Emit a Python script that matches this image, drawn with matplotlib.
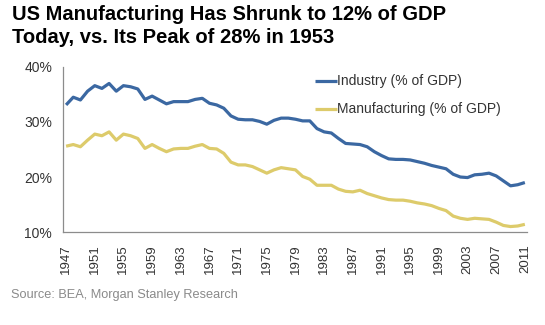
import matplotlib
matplotlib.use("Agg")
import matplotlib.pyplot as plt
import matplotlib.ticker as mticker

plt.rcParams["font.family"] = ["Liberation Sans", "DejaVu Sans"]

# 年度資料 1947-2011（佔 GDP 百分比）
years = list(range(1947, 2012))
industry = [
    33.1, 34.5, 34.0, 35.6, 36.6, 36.1, 37.0, 35.6, 36.6, 36.4,
    36.0, 34.1, 34.7, 34.0, 33.3, 33.7, 33.7, 33.7, 34.1, 34.3,
    33.4, 33.1, 32.5, 31.1, 30.5, 30.4, 30.4, 30.1, 29.6, 30.3,
    30.7, 30.7, 30.5, 30.2, 30.2, 28.8, 28.2, 28.0, 27.0, 26.1,
    26.0, 25.9, 25.5, 24.6, 23.9, 23.3, 23.2, 23.2, 23.1, 22.8,
    22.5, 22.1, 21.8, 21.5, 20.5, 20.0, 19.9, 20.4, 20.5, 20.7,
    20.2, 19.3, 18.4, 18.6, 19.0,
]
manufacturing = [
    25.6, 25.9, 25.5, 26.7, 27.8, 27.5, 28.2, 26.7, 27.8, 27.5,
    27.0, 25.2, 25.9, 25.2, 24.6, 25.1, 25.2, 25.2, 25.6, 25.9,
    25.2, 25.1, 24.3, 22.7, 22.2, 22.2, 21.9, 21.3, 20.7, 21.3,
    21.7, 21.5, 21.3, 20.1, 19.6, 18.5, 18.5, 18.5, 17.8, 17.4,
    17.3, 17.6, 17.0, 16.6, 16.2, 15.9, 15.8, 15.8, 15.6, 15.3,
    15.1, 14.8, 14.3, 13.9, 12.9, 12.5, 12.3, 12.5, 12.4, 12.3,
    11.8, 11.2, 11.0, 11.1, 11.4,
]
tick_years = list(range(1947, 2012, 4))
y_ticks = [10, 20, 30, 40]

BLUE = "#3B68A2"
YELLOW = "#DDCB6B"

fig = plt.figure(figsize=(5.45, 3.25), dpi=100)
ax = fig.add_axes([0.116, 0.286, 0.851, 0.508])

ax.plot(years, industry, color=BLUE, linewidth=2.3, label="Industry (% of GDP)",
        solid_capstyle="butt")
ax.plot(years, manufacturing, color=YELLOW, linewidth=2.3,
        label="Manufacturing (% of GDP)", solid_capstyle="butt")

ax.set_xlim(1946.6, 2011.3)
ax.set_ylim(10, 40)
ax.set_xticks(tick_years)
ax.set_xticklabels([str(y) for y in tick_years], rotation=90, fontsize=9.5,
                   color="#333333")
ax.set_yticks(y_ticks)
ax.yaxis.set_major_formatter(mticker.FuncFormatter(lambda v, p: f"{v:.0f}%"))
ax.tick_params(axis="y", labelsize=10, labelcolor="#333333", length=0, pad=8)
ax.tick_params(axis="x", length=0, pad=9)

for side in ["top", "right"]:
    ax.spines[side].set_visible(False)
for side in ["left", "bottom"]:
    ax.spines[side].set_color("#8C8C8C")
    ax.spines[side].set_linewidth(0.9)

ax.legend(loc="upper left", bbox_to_anchor=(0.515, 1.03), frameon=False,
          fontsize=10, handlelength=1.6, handletextpad=0.0, labelspacing=1.0,
          labelcolor="#333333")

fig.text(0.022, 0.985, "US Manufacturing Has Shrunk to 12% of GDP\nToday, vs. Its Peak of 28% in 1953",
         fontsize=14.5, fontweight="bold", va="top", ha="left", linespacing=1.3)
fig.text(0.02, 0.092, "Source: BEA, Morgan Stanley Research", fontsize=9.2,
         color="#8A8A8A", va="center", ha="left")

fig.savefig("out.png", dpi=100)
